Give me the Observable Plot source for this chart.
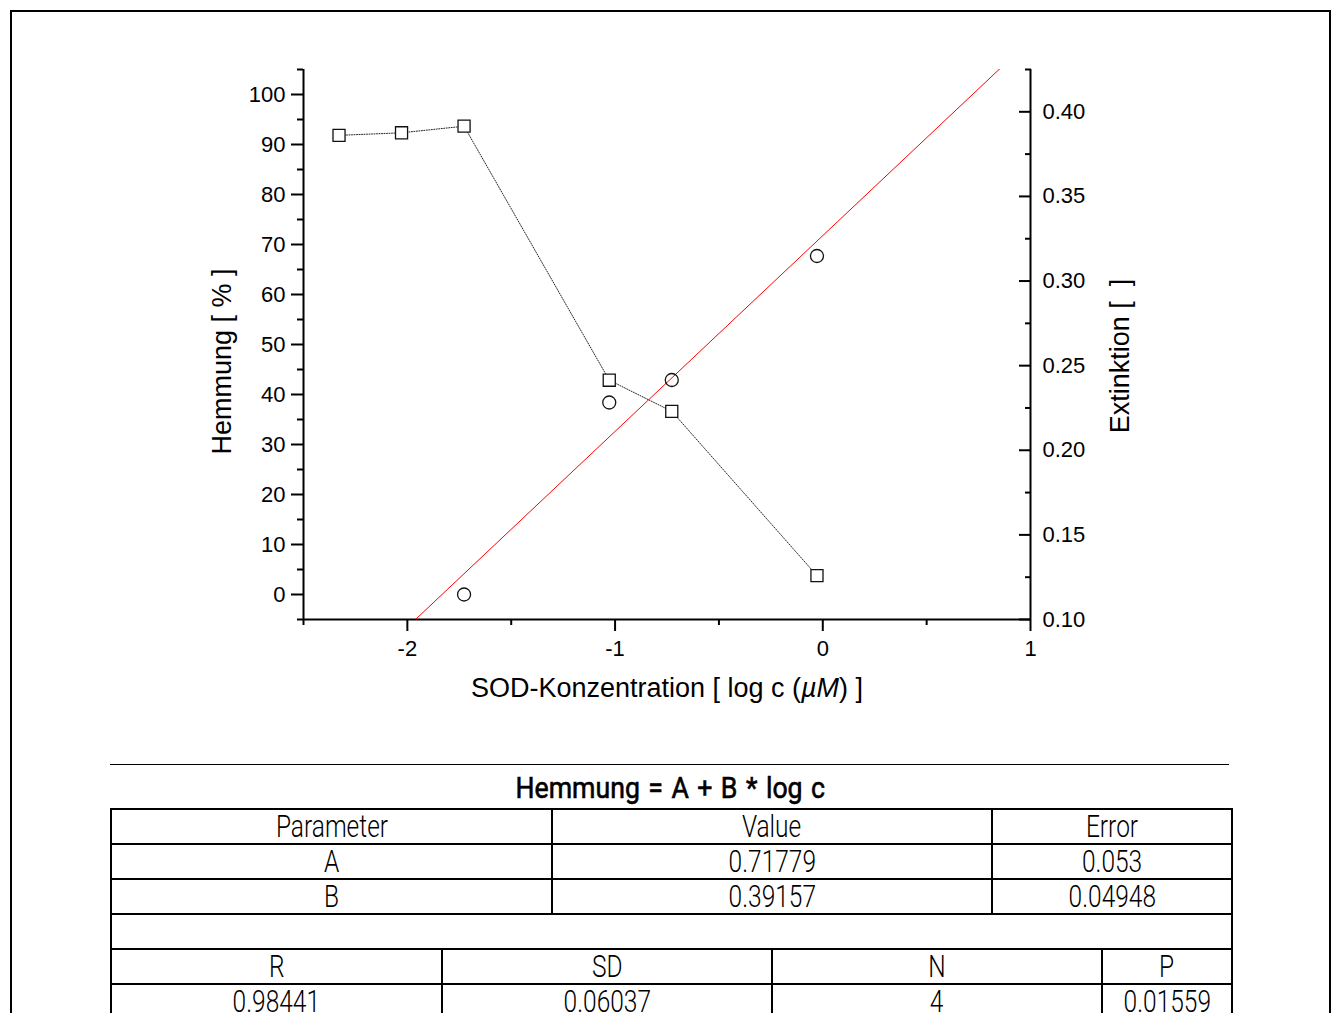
<!DOCTYPE html>
<html>
<head>
<meta charset="utf-8">
<script src="https://cdn.jsdelivr.net/npm/d3@7"></script>
<script src="https://cdn.jsdelivr.net/npm/@observablehq/plot@0.6"></script>
<style>
  html, body { margin: 0; padding: 0; background: #fff; }
  body { width: 1337px; height: 1013px; overflow: hidden; position: relative; font-family: "Liberation Sans", Arial, sans-serif; }
  #frame { position: absolute; left: 10px; top: 10px; width: 1317px; height: 1100px; border: 2px solid #000; }
  .layer { position: absolute; left: 0; top: 0; }
  #eq-rule { position: absolute; left: 110px; top: 764px; width: 1119px; height: 0; border-top: 1px solid #000; }
  #eq { position: absolute; left: 110px; width: 1120px; top: 771px; height: 34px; line-height: 34px; text-align: center;
        font-family: Roboto, "Liberation Sans", sans-serif; font-weight: 400; font-size: 29px; white-space: nowrap;
        -webkit-text-stroke: 0.6px #000; word-spacing: 2px; }
  #eq span { display: inline-block; transform: scaleX(0.92); }
  #fit { position: absolute; left: 110px; top: 808px; border-collapse: collapse; table-layout: fixed; width: 1121px; }
  #fit tr { height: 35px; }
  #fit td { border: 2px solid #000; padding: 0; text-align: center; vertical-align: middle; white-space: nowrap; overflow: hidden;
            font-family: Roboto, "Liberation Sans", sans-serif; font-weight: 300; font-size: 31px; line-height: 31px; }
  #fit td span { display: inline-block; transform: scaleX(0.79); }
</style>
</head>
<body>
<div id="frame"></div>
<div id="chart"></div>
<div id="eq-rule"></div>
<div id="eq"></div>
<table id="fit"></table>
<script>
// ---- data -------------------------------------------------------------
// log10 of SOD concentration (µM) for each measurement
const logC = [-2.329, -2.028, -1.727, -1.028, -0.727, -0.028];
// measured extinction (right axis)
const extinktion = [0.3861, 0.3876, 0.3915, 0.2414, 0.2230, 0.1259];
// inhibition (%) for the four concentrations used in the fit (left axis)
const logCFit = [-1.727, -1.028, -0.727, -0.028];
const hemmung = [0.0, 38.4, 42.9, 67.7];

// linear fit: Hemmung = A + B * log c (as a fraction)
const fitParams = ["A", "B"];
const fitValues = [0.71779, 0.39157];
const fitErrors = ["0.053", "0.04948"];
const statNames = ["R", "SD", "N", "P"];
const statValues = ["0.98441", "0.06037", "4", "0.01559"];

// axes
const xDomain = [-2.5, 1];
const xTicks = [-2, -1, 0, 1];
const xMinor = [-2.5, -1.5, -0.5, 0.5];
const hemmDomain = [-5, 105];
const hemmTicks = [0, 10, 20, 30, 40, 50, 60, 70, 80, 90, 100];
const hemmMinor = [-5, 5, 15, 25, 35, 45, 55, 65, 75, 85, 95, 105];
const extDomain = [0.1, 0.425];
const extTicks = [0.10, 0.15, 0.20, 0.25, 0.30, 0.35, 0.40];
const extMinor = [0.125, 0.175, 0.225, 0.275, 0.325, 0.375, 0.425];

const xTitleParts = [["SOD-Konzentration [ log c (", false], ["µM", true], [") ]", false]];
const xTitle = xTitleParts.map(p => p[0]).join("");
const yLeftTitle = "Hemmung [ % ]";
const yRightTitle = "Extinktion [\u00a0\u00a0]";
const eqTitle = "Hemmung = A + B * log c";

// ---- tables for the marks -------------------------------------------
const squares = logC.map((x, i) => ({x, y: extinktion[i]}));
const circles = logCFit.map((x, i) => ({x, y: hemmung[i]}));
const [A, B] = fitValues;
const fitLine = xDomain.map(x => ({x, y: 100 * (A + B * x)}));

// ---- chart ------------------------------------------------------------
const font = "'Liberation Sans', Arial, sans-serif";
const titleSize = 27;
const common = {
  width: 1337, height: 730,
  marginLeft: 303, marginRight: 307, marginTop: 69, marginBottom: 111,
  style: {fontFamily: font, fontSize: "22px", background: "none", overflow: "visible", color: "#000"}
};

const leftPlot = Plot.plot({
  ...common,
  x: {domain: xDomain},
  y: {domain: hemmDomain},
  marks: [
    Plot.ruleX([xDomain[0]], {stroke: "#000", strokeWidth: 2}),
    Plot.ruleY([hemmDomain[0]], {stroke: "#000", strokeWidth: 2}),
    Plot.axisY({ticks: hemmTicks, tickSize: 12, tickPadding: 6, tickFormat: d => String(d), strokeWidth: 2, label: null, fontSize: 22}),
    Plot.axisY({ticks: hemmMinor, tickSize: 6, tickFormat: () => "", strokeWidth: 2, label: null}),
    Plot.axisX({ticks: xTicks, tickSize: 12, tickPadding: 9, tickFormat: d => String(d), strokeWidth: 2, label: null, fontSize: 22}),
    Plot.axisX({ticks: xMinor, tickSize: 6, tickFormat: () => "", strokeWidth: 2, label: null}),
    Plot.line(fitLine, {x: "x", y: "y", stroke: "#ff0000", strokeWidth: 1, clip: true}),
    Plot.dot(circles, {x: "x", y: "y", r: 6.5, stroke: "#111", strokeWidth: 1.3, fill: "none"}),
    Plot.text([xTitle], {frameAnchor: "bottom", lineAnchor: "middle", textAnchor: "middle", dy: 69, fontSize: titleSize, fill: "#000"}),
    Plot.text([yLeftTitle], {frameAnchor: "left", lineAnchor: "middle", textAnchor: "middle", rotate: -90, dx: -81, dy: 17, fontSize: titleSize, fill: "#000"})
  ]
});

const rightPlot = Plot.plot({
  ...common,
  x: {domain: xDomain, axis: null},
  y: {domain: extDomain},
  marks: [
    Plot.ruleX([xDomain[1]], {stroke: "#000", strokeWidth: 2}),
    Plot.axisY({anchor: "right", ticks: extTicks, tickSize: -12, tickPadding: 24, tickFormat: d3.format(".2f"), strokeWidth: 2, label: null, fontSize: 22}),
    Plot.axisY({anchor: "right", ticks: extMinor, tickSize: -6, tickPadding: 18, tickFormat: () => "", strokeWidth: 2, label: null}),
    Plot.line(squares, {x: "x", y: "y", stroke: "#222", strokeWidth: 1, strokeDasharray: "1,1.5"}),
    Plot.dot(squares, {x: "x", y: "y", symbol: "square", r: 6.8, stroke: "#111", strokeWidth: 1.3, fill: "#fff"}),
    Plot.text([yRightTitle], {frameAnchor: "right", lineAnchor: "middle", textAnchor: "middle", rotate: -90, dx: 90, dy: 11.5, fontSize: titleSize, fill: "#000"})
  ]
});

leftPlot.classList.add("layer");
rightPlot.classList.add("layer");
const chart = document.getElementById("chart");
chart.appendChild(leftPlot);
chart.appendChild(rightPlot);

// italic unit in the x-axis title
const svgNS = "http://www.w3.org/2000/svg";
const xt = [...leftPlot.querySelectorAll("text")].find(n => n.textContent === xTitle);
if (xt) {
  xt.textContent = "";
  for (const [s, it] of xTitleParts) {
    const ts = document.createElementNS(svgNS, "tspan");
    ts.textContent = s;
    if (it) ts.setAttribute("font-style", "italic");
    xt.appendChild(ts);
  }
}

// ---- fit results table -----------------------------------------------
document.getElementById("eq").innerHTML = `<span>${eqTitle}</span>`;
const cell = (t, span) => `<td colspan="${span}"><span>${t}</span></td>`;
const colWidths = [331, 110, 220, 220, 110, 130];
let html = "<colgroup>" + colWidths.map(w => `<col style="width:${w}px">`).join("") + "</colgroup>";
html += "<tr>" + cell("Parameter", 2) + cell("Value", 2) + cell("Error", 2) + "</tr>";
fitParams.forEach((p, i) => {
  html += "<tr>" + cell(p, 2) + cell(String(fitValues[i]), 2) + cell(fitErrors[i], 2) + "</tr>";
});
html += "<tr>" + cell("", 6) + "</tr>";
const statSpans = [1, 2, 2, 1];
html += "<tr>" + statNames.map((n, i) => cell(n, statSpans[i])).join("") + "</tr>";
html += "<tr>" + statValues.map((v, i) => cell(v, statSpans[i])).join("") + "</tr>";
document.getElementById("fit").innerHTML = html;
</script>
</body>
</html>
